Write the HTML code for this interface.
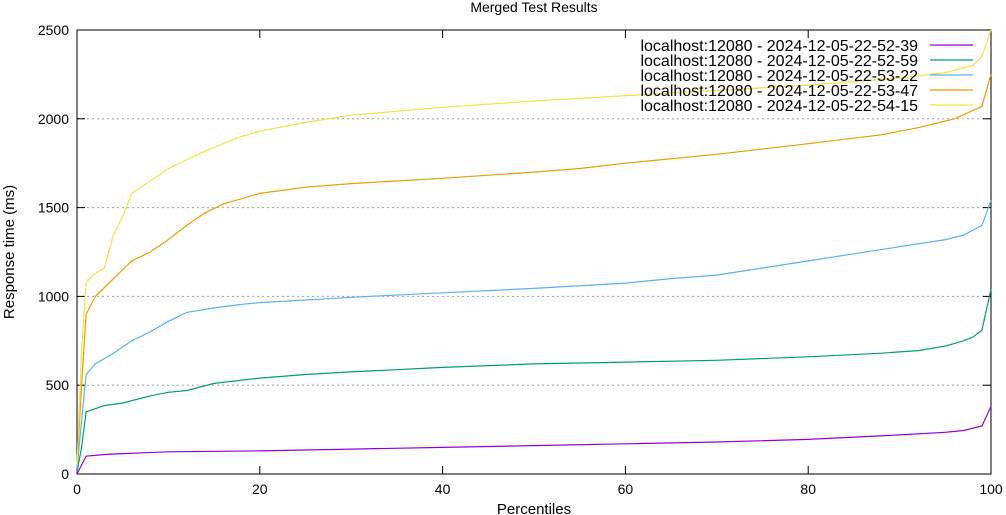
<!DOCTYPE html>
<html><head><meta charset="utf-8"><style>
body{margin:0;background:#fff}
svg{display:block;font-family:"Liberation Sans",sans-serif}
</style></head><body>
<svg id="chart" width="1006" height="515" xmlns="http://www.w3.org/2000/svg">
<text x="534" y="12" font-size="14" text-anchor="middle">Merged Test Results</text>
<g id="grid"></g><g id="axes"></g><g id="series"></g><g id="legend"></g>
<text x="534" y="514" font-size="15" text-anchor="middle">Percentiles</text>
<text transform="translate(14,252) rotate(-90)" font-size="15" text-anchor="middle">Response time (ms)</text>
</svg>
<script>
const xTicks=[0,20,40,60,80,100];
const yTicks=[0,500,1000,1500,2000,2500];
const seriesNames=["localhost:12080 - 2024-12-05-22-52-39","localhost:12080 - 2024-12-05-22-52-59","localhost:12080 - 2024-12-05-22-53-22","localhost:12080 - 2024-12-05-22-53-47","localhost:12080 - 2024-12-05-22-54-15"];
const seriesColors=["#9400d3","#009e73","#56b4e9","#e69f00","#f0e442"];
const p1=[0,1,3,5,10,20,30,40,50,60,70,80,90,95,97,99,100];
const v1=[0,100,110,115,125,130,140,150,160,170,180,195,220,235,245,270,380];
const p2=[0,0.5,1,3,5,8,10,12,15,20,25,30,40,50,60,70,80,88,92,95,97,98,99,100];
const v2=[10,150,350,385,400,440,460,470,510,540,560,575,600,620,630,640,660,680,695,720,750,770,810,1040];
const p3=[0,0.5,1,2,4,6,8,10,12,15,18,20,30,40,50,60,65,70,75,80,85,90,95,97,99,100];
const v3=[30,300,560,620,680,750,800,860,910,935,955,965,995,1020,1045,1075,1100,1120,1160,1200,1240,1280,1320,1345,1400,1540];
const p4=[0,0.5,1,2,4,6,8,10,12,14,16,20,25,30,40,50,55,60,70,80,88,92,96,99,100];
const v4=[50,500,900,1000,1100,1200,1250,1320,1400,1470,1520,1580,1615,1635,1665,1700,1720,1750,1800,1860,1910,1950,2000,2070,2250];
const p5=[0,0.5,1,2,3,4,5,6,8,10,12,15,18,20,25,30,40,50,60,70,80,90,95,98,99,100];
const v5=[50,700,1080,1130,1160,1350,1450,1580,1650,1720,1770,1840,1900,1930,1980,2020,2065,2100,2130,2160,2190,2230,2260,2300,2350,2500];
const P=[p1,p2,p3,p4,p5], V=[v1,v2,v3,v4,v5];
const L=77,R=991,T=30,B=474;
const xs=v=>L+(R-L)*v/100, ys=v=>B-(B-T)*v/2500;
const NS="http://www.w3.org/2000/svg";
function mk(tag,parent,attrs){const e=document.createElementNS(NS,tag);for(const k in attrs)e.setAttribute(k,attrs[k]);parent.appendChild(e);return e;}
const grid=document.getElementById('grid'),axes=document.getElementById('axes'),ser=document.getElementById('series'),leg=document.getElementById('legend');
yTicks.forEach(t=>{const y=ys(t);
 if(t>0&&t<2500){const g=mk('line',grid,{x1:L,x2:R,y1:y,y2:y,stroke:'#a0a0a0','stroke-dasharray':'2,3'});
 
 }
 mk('line',axes,{x1:L,x2:L+8,y1:y,y2:y,stroke:'#000'});mk('line',axes,{x1:R-8,x2:R,y1:y,y2:y,stroke:'#000'});
 const tx=mk('text',axes,{x:L-8,y:y+5,'font-size':14,'text-anchor':'end'});tx.textContent=t;
 
 });
xTicks.forEach(t=>{const x=xs(t);
 mk('line',axes,{x1:x,x2:x,y1:B,y2:B-8,stroke:'#000'});mk('line',axes,{x1:x,x2:x,y1:T,y2:T+8,stroke:'#000'});
 const tx=mk('text',axes,{x:x,y:B+20,'font-size':14,'text-anchor':'middle'});tx.textContent=t;
 
 });
const fr=mk('rect',axes,{x:L,y:T,width:R-L,height:B-T,fill:'none',stroke:'#000'});


P.forEach((p,i)=>{const d=p.map((v,j)=>(j?'L':'M')+xs(v).toFixed(1)+','+ys(V[i][j]).toFixed(1)).join('');
 const pa=mk('path',ser,{d:d,fill:'none',stroke:seriesColors[i],'stroke-width':1.2});
 
 
 const y=45+i*15;
 const lt=mk('text',leg,{x:918,y:y+6,'font-size':16,'text-anchor':'end'});lt.textContent=seriesNames[i];
 
 
 const ll=mk('line',leg,{x1:930,x2:973,y1:y,y2:y,stroke:seriesColors[i],'stroke-width':1.2});
 
 });
</script>
</body></html>
